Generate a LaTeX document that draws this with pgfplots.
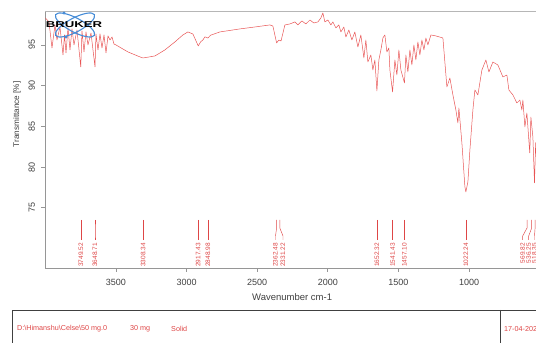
\documentclass[border=0pt]{standalone}
\usepackage{fontspec}
\setmainfont{Liberation Sans}
\usepackage{pgfplots}
\pgfplotsset{compat=1.18}
\definecolor{spec}{RGB}{232,85,85}
\definecolor{pkc}{RGB}{222,70,70}
\definecolor{framec}{RGB}{150,150,150}
\definecolor{logob}{RGB}{70,140,215}
\newcommand{\pk}[3]{%
  \draw[pkc, line width=0.45pt] (axis cs:#1,73.5) -- (axis cs:#1,72.52) -- (axis cs:#2,71.54) -- (axis cs:#2,71.04);
  \node[rotate=90, anchor=east, inner sep=0pt, text=pkc, font=\fontsize{6.5}{6.5}\selectfont] at (axis cs:#2,70.68) {#3};}
\begin{document}
\begin{tikzpicture}[x=1pt,y=1pt]
\useasboundingbox (0,0) rectangle (536,343);
\clip (0,0) rectangle (536,343);
\begin{axis}[
  at={(45.4pt,75pt)}, anchor=south west,
  scale only axis, width=490.6pt, height=256pt,
  x dir=reverse, xmin=525.6, xmax=4000, ymin=67.6, ymax=99.05,
  clip=false,
  axis line style={draw=none},
  xtick={1000,1500,2000,2500,3000,3500},
  ytick={75,80,85,90,95},
  xtick pos=left, ytick pos=left,
  tick align=outside, major tick length=4pt,
  tick style={framec, line width=0.8pt},
  /pgf/number format/assume math mode=true,
  /pgf/number format/1000 sep={},
  ticklabel style={font=\fontsize{9}{9}\selectfont, text=black!75},
  yticklabel style={rotate=90, anchor=south, yshift=3pt},
  xticklabel style={yshift=-4pt},
  xlabel={Wavenumber cm-1},
  ylabel={Transmittance [\%]},
  every axis x label/.style={at={(rel axis cs:0.503,-0.113)}, anchor=center, font=\fontsize{9.5}{9.5}\selectfont, text=black!75},
  every axis y label/.style={at={(rel axis cs:-0.058,0.60)}, anchor=center, rotate=90, font=\fontsize{8.2}{8.2}\selectfont, text=black!75},
]
\draw[framec, line width=0.8pt] (rel axis cs:0,1) -- (rel axis cs:0,0) -- (rel axis cs:1.02,0);
\draw[framec!70, line width=1pt] (rel axis cs:0,1) -- (rel axis cs:1.02,1);
\addplot[spec, line width=0.5pt, line join=round] coordinates {
(3999.9,98.32) (3974.5,97.83) (3953.3,94.63) (3932.0,97.46) (3917.8,95.61) (3896.6,97.21)
(3875.3,93.77) (3864.7,96.23) (3854.1,94.02) (3839.9,97.09) (3825.8,94.39) (3811.6,96.97)
(3797.4,95.00) (3776.2,96.84) (3749.5,92.30) (3740.8,96.72) (3726.6,94.14) (3712.5,96.60)
(3698.3,95.00) (3677.1,96.47) (3648.7,92.30) (3641.7,96.35) (3627.5,94.39) (3613.3,96.35)
(3599.2,94.63) (3585.0,96.23) (3570.8,94.02) (3556.7,96.11) (3542.5,95.61) (3528.3,95.98)
(3514.2,95.12) (3500.0,95.00) (3415.0,94.14) (3330.0,93.53) (3308.3,93.40) (3224,93.65)
(3153.8,94.39) (3082.9,95.37) (3026.3,96.23) (2990.9,96.60) (2955.5,96.35) (2917.4,94.88)
(2900,95.4) (2884.7,95.61) (2870,96.0) (2849,95.85) (2830,96.2) (2764.3,96.60)
(2622.7,96.97) (2516.4,97.21) (2410.2,97.46) (2389,97.33) (2362.5,95.25) (2346.5,95.61)
(2331.2,95.49) (2304,97.46) (2268.5,97.58) (2233.1,97.83) (2211.9,97.46) (2183.6,97.95)
(2155.2,97.58) (2126.9,98.07) (2098.6,97.70) (2070.3,97.83) (2049.0,98.32) (2034.9,98.93)
(2020.7,97.83) (1999.5,98.07) (1978.2,97.46) (1964.1,97.83) (1942.8,97.09) (1921.6,97.46)
(1907.4,96.60) (1886.2,97.21) (1872.0,95.98) (1850.8,96.84) (1829.5,95.61) (1808.3,96.60)
(1787.0,94.75) (1765.8,96.23) (1744.5,93.40) (1730.4,95.61) (1716.2,92.91) (1695.0,93.77)
(1680.8,91.93) (1666.6,93.16) (1652.3,89.35) (1638.3,93.16) (1624.1,94.39) (1609.9,95.86)
(1595.8,96.23) (1581.6,94.14) (1567.4,94.63) (1560.3,91.93) (1541.4,89.23) (1524.9,93.16)
(1510.7,91.31) (1496.6,94.39) (1482.4,91.93) (1457.1,90.33) (1447,93.77) (1432.8,91.68)
(1418.7,94.39) (1404.5,92.54) (1390.3,95.00) (1376.2,93.16) (1362,95.37) (1347.8,93.77)
(1333.7,95.61) (1319.5,94.39) (1305.3,95.86) (1291.2,95.00) (1269.9,96.23) (1234.5,96.11)
(1184.9,95.86) (1156.6,89.84) (1135.4,90.95) (1114.1,88.86) (1092.9,87.01) (1078.7,85.42)
(1071.6,87.26) (1050.4,82.96) (1029.1,77.56) (1022.2,76.94) (1007.9,78.17) (993.7,82.10)
(972.5,87.01) (958.3,89.47) (937.1,88.86) (908.7,91.93) (880.4,93.16) (859.2,91.68)
(830.9,92.91) (795.5,92.54) (760.0,91.07) (731.7,91.31) (717.6,89.47) (689.2,88.86)
(660.9,87.87) (639.7,88.24) (625.5,87.01) (618.4,88.24) (604.3,84.93) (590.1,86.65)
(569.8,81.73) (561.8,86.15) (547.6,83.70) (536.3,78.05) (528,83.0) (518.5,80.0) (500,85.0)
};
\pk{3749.52}{3749.52}{3749.52}
\pk{3648.71}{3648.71}{3648.71}
\pk{3308.34}{3308.34}{3308.34}
\pk{2917.43}{2917.43}{2917.43}
\pk{2848.98}{2848.98}{2848.98}
\pk{2362.48}{2370.4}{2362.48}
\pk{2340.0}{2317.3}{2331.22}
\pk{1652.32}{1652.32}{1652.32}
\pk{1541.43}{1541.43}{1541.43}
\pk{1457.10}{1457.10}{1457.10}
\pk{1022.24}{1022.24}{1022.24}
\pk{589}{619.7}{569.82}
\pk{556}{577.3}{536.25}
\pk{532}{536.2}{518.35}
\end{axis}
% Bruker logo
\begin{scope}[logob, line width=1.1pt]
\draw[rotate around={28:(75,318)}] (75,318) ellipse (22 and 7);
\draw[rotate around={-28:(75,318)}] (75,318) ellipse (22 and 7);
\fill (64,330) circle (1.6);
\fill (66,306) circle (1.6);
\end{scope}
\node[xscale=1.55, font=\fontsize{8.5}{8.5}\selectfont\bfseries, inner sep=0pt] at (74,318) {BRUKER};
% bottom info box
\draw[black!75, line width=0.8pt] (12,-5) -- (12,33) -- (545,33);
\draw[black!75, line width=0.8pt] (500.7,33) -- (500.7,-5);
\begin{scope}[font=\fontsize{7.2}{7.2}\selectfont, text=pkc, inner sep=0pt]
\node[anchor=west] at (17,14) {D:\textbackslash Himanshu\textbackslash Celse\textbackslash 50 mg.0};
\node[anchor=west] at (130,14) {30 mg};
\node[anchor=west] at (171,14) {Solid};
\node[anchor=west] at (504,14) {17-04-2023};
\end{scope}
\end{tikzpicture}
\end{document}
